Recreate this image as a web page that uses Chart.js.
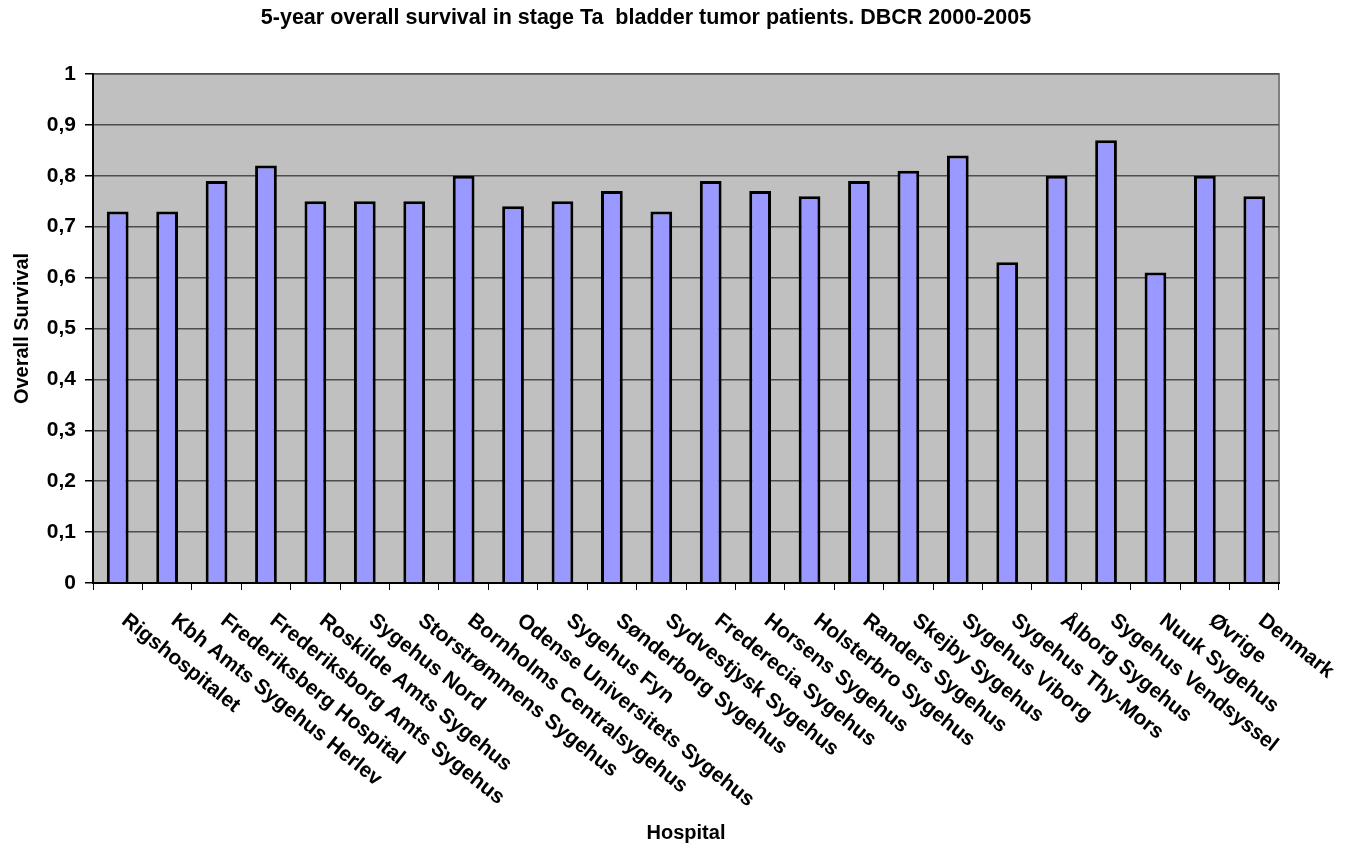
<!DOCTYPE html>
<html>
<head>
<meta charset="utf-8">
<script src="https://cdn.jsdelivr.net/npm/chart.js@4/dist/chart.umd.min.js"></script>
<style>
  html, body { margin: 0; padding: 0; background: #fff; }
  #wrap { width: 1354px; height: 850px; }
</style>
</head>
<body>
<div id="wrap"><canvas id="chart" width="1354" height="850"></canvas></div>
<script>
const hospitals = [
  'Rigshospitalet', 'Kbh Amts Sygehus Herlev', 'Frederiksberg Hospital', 'Frederiksborg Amts Sygehus',
  'Roskilde Amts Sygehus', 'Sygehus Nord', 'Storstrømmens Sygehus', 'Bornholms Centralsygehus',
  'Odense Universitets Sygehus', 'Sygehus Fyn', 'Sønderborg Sygehus', 'Sydvestjysk Sygehus',
  'Frederecia Sygehus', 'Horsens Sygehus', 'Holsterbro Sygehus', 'Randers Sygehus',
  'Skejby Sygehus', 'Sygehus Viborg', 'Sygehus Thy-Mors', 'Ålborg Sygehus',
  'Sygehus Vendsyssel', 'Nuuk Sygehus', 'Øvrige', 'Denmark'
];
const survival = [
  0.73, 0.73, 0.79, 0.82, 0.75, 0.75, 0.75, 0.80, 0.74, 0.75, 0.77, 0.73,
  0.79, 0.77, 0.76, 0.79, 0.81, 0.84, 0.63, 0.80, 0.87, 0.61, 0.80, 0.76
];
const yTickLabels = ['0', '0,1', '0,2', '0,3', '0,4', '0,5', '0,6', '0,7', '0,8', '0,9', '1'];
const chartTitle = '5-year overall survival in stage Ta  bladder tumor patients. DBCR 2000-2005';

const FONT = '"Liberation Sans", Arial, sans-serif';

// grey plot area, own title and slanted hospital names
const plotDecor = {
  id: 'plotDecor',
  beforeDraw(chart) {
    const { ctx, chartArea: a } = chart;
    ctx.save();
    ctx.fillStyle = '#c0c0c0';
    ctx.fillRect(a.left, a.top, a.right - a.left, a.bottom - a.top);
    ctx.strokeStyle = '#808080';
    ctx.lineWidth = 2;
    ctx.strokeRect(a.left, a.top, a.right - a.left, a.bottom - a.top);
    ctx.restore();
  },
  afterDraw(chart) {
    const { ctx } = chart;
    const x = chart.scales.x;
    ctx.save();
    ctx.fillStyle = '#000';
    ctx.font = 'bold 21px ' + FONT;
    ctx.textAlign = 'left';
    ctx.textBaseline = 'top';
    hospitals.forEach((name, i) => {
      const px = x.getPixelForValue(i);
      ctx.save();
      ctx.translate(px + 13, x.top + 27);
      ctx.rotate(38.5 * Math.PI / 180);
      ctx.fillText(name, 0, 0);
      ctx.restore();
    });
    ctx.font = 'bold 21.5px ' + FONT;
    ctx.textAlign = 'center';
    ctx.textBaseline = 'middle';
    ctx.fillText(chartTitle, 646, 18);
    ctx.restore();
  }
};

new Chart(document.getElementById('chart'), {
  type: 'bar',
  data: {
    labels: hospitals,
    datasets: [{
      data: survival,
      backgroundColor: '#9999ff',
      borderColor: '#000',
      borderWidth: 3,
      barPercentage: 0.44,
      categoryPercentage: 1
    }]
  },
  options: {
    responsive: false,
    animation: false,
    layout: { padding: { top: 74, right: 75, bottom: 0, left: 0 } },
    plugins: {
      legend: { display: false },
      title: { display: false },
      tooltip: { enabled: false }
    },
    scales: {
      x: {
        ticks: { display: false },
        grid: { drawOnChartArea: false, drawTicks: true, tickLength: 7, tickColor: '#000', offset: true },
        border: { color: '#000', width: 2 },
        title: {
          display: true, text: 'Hospital', color: '#000',
          font: { family: FONT, size: 20, weight: 'bold' },
          padding: { top: 0, bottom: 5 }
        },
        afterFit(scale) { scale.height = 267; }
      },
      y: {
        min: 0,
        max: 1,
        ticks: {
          stepSize: 0.1,
          color: '#000',
          padding: 9,
          font: { family: FONT, size: 21, weight: 'bold' },
          callback: (v, i) => yTickLabels[i]
        },
        grid: { color: '#4d4d4d', lineWidth: 1.5, tickColor: '#000', tickLength: 8 },
        border: { color: '#000', width: 2 },
        title: {
          display: true, text: 'Overall Survival', color: '#000',
          font: { family: FONT, size: 20, weight: 'bold' },
          padding: { top: 10, bottom: 0 }
        },
        afterFit(scale) { scale.width = 93; }
      }
    }
  },
  plugins: [plotDecor]
});
</script>
</body>
</html>
